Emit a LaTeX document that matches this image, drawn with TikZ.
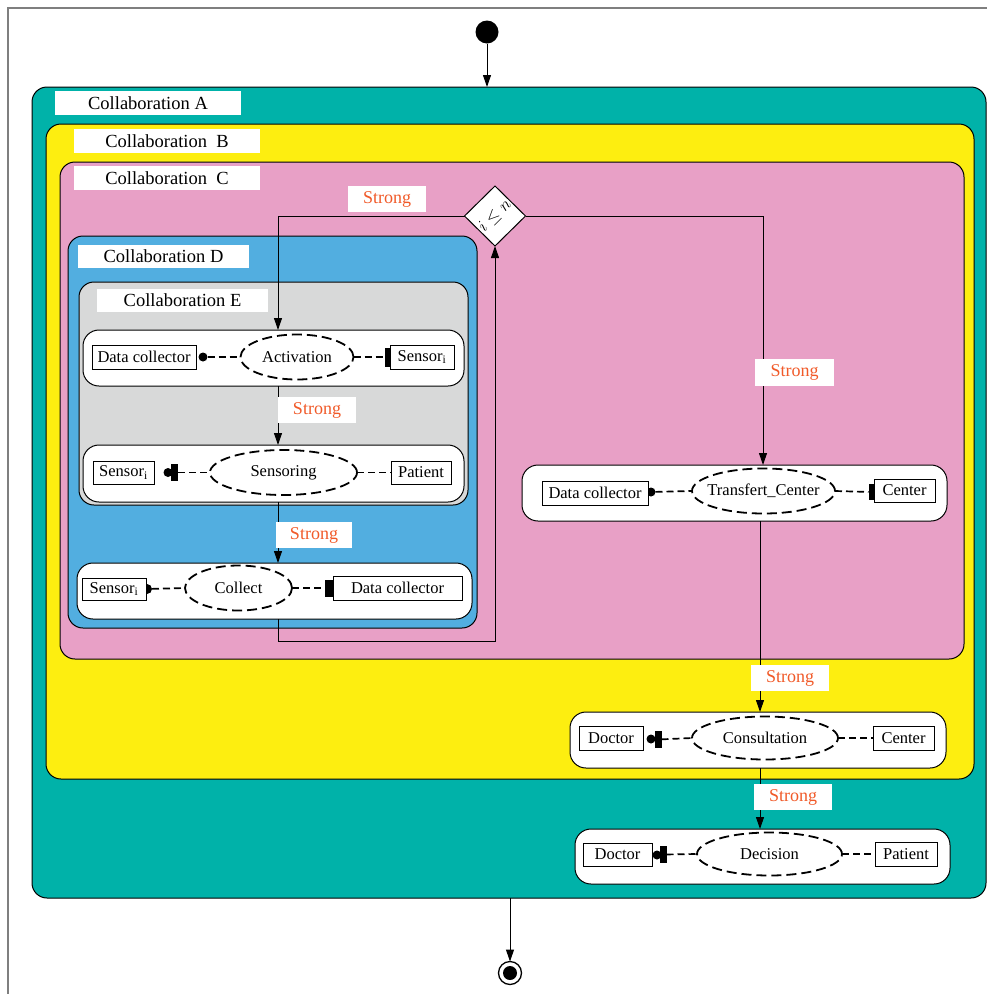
\documentclass[tikz,border=0pt]{standalone}
\usepackage{fontspec}
\setmainfont{Liberation Serif}
\usetikzlibrary{shapes.geometric,arrows.meta}

\definecolor{collabA}{HTML}{00B2A9}
\definecolor{collabB}{HTML}{FDEE10}
\definecolor{collabC}{HTML}{E8A0C6}
\definecolor{collabD}{HTML}{52AEE0}
\definecolor{collabE}{HTML}{D8D9D9}
\definecolor{strongred}{HTML}{F15A29}
\definecolor{framegray}{HTML}{7F7F7F}

% node spanning the box (x1,y1)-(x2,y2): style, name, x1, y1, x2, y2, text
\newcommand\spanbox[7]{%
  \node[#1,minimum width={(#5)-(#3)},minimum height={(#6)-(#4)}]
    (#2) at ({((#3)+(#5))/2},{((#4)+(#6))/2}) {#7};}

\tikzset{
  region/.style={draw=black,line width=1pt,rounded corners=15pt,inner sep=0pt,outer sep=0pt},
  tag/.style={fill=white,inner sep=0pt,outer sep=0pt,font=\fontsize{18.5}{20}\selectfont},
  row/.style={draw=black,fill=white,line width=1pt,rounded corners=16pt,inner sep=0pt,outer sep=0pt},
  actor/.style={draw=black,fill=white,line width=0.9pt,inner sep=0pt,outer sep=0pt,font=\fontsize{16.5}{18}\selectfont},
  usecase/.style={ellipse,draw=black,fill=white,line width=1.8pt,dash pattern=on 10pt off 5pt,inner sep=0pt,outer sep=0pt},
  uctext/.style={font=\fontsize{16.5}{18}\selectfont},
  strongtag/.style={fill=white,inner sep=0pt,outer sep=0pt,text=strongred,font=\fontsize{18}{20}\selectfont},
  ball/.style={circle,fill=black,inner sep=0pt,outer sep=0pt,minimum size=9pt},
  socket/.style={rectangle,fill=black,inner sep=0pt,outer sep=0pt,minimum width=7pt,minimum height=17pt},
  wire/.style={line width=1.7pt,dash pattern=on 7pt off 4pt},
  flow/.style={line width=1pt,-{Triangle[length=12pt,width=8pt]}},
}

\begin{document}
\begin{tikzpicture}[x=1pt,y=-1pt]
\useasboundingbox (0,0) rectangle (987,994);

% outer frame
\draw[framegray,line width=1.5pt] (8,994) -- (8,8) -- (987,8);

% nested collaboration regions
\spanbox{region,fill=collabA}{regA}{32}{87}{986}{898}{}
\spanbox{tag}{tagA}{55}{91}{241}{115}{Collaboration A}
\spanbox{region,fill=collabB}{regB}{46}{124}{974}{779}{}
\spanbox{tag}{tagB}{74}{129}{260}{153}{Collaboration\ \ B}
\spanbox{region,fill=collabC}{regC}{60}{162}{964}{659}{}
\spanbox{tag}{tagC}{74}{166}{260}{190}{Collaboration\ \ C}
\spanbox{region,fill=collabD}{regD}{68}{236}{477}{628}{}
\spanbox{tag}{tagD}{78}{245}{249}{268}{Collaboration D}
\spanbox{region,fill=collabE}{regE}{79}{282}{468}{505}{}
\spanbox{tag}{tagE}{97}{289}{268}{312}{Collaboration E}

% Activation
\spanbox{row}{rowAct}{83}{330}{464}{386}{}
\node[ball] (actB) at (203,357) {};
\spanbox{actor}{actDC}{92}{345}{196}{369}{Data collector}
\node[usecase,minimum width=113pt,minimum height=45pt,label={[uctext]center:Activation}] (act) at (297,357) {};
\node[socket,minimum height=19pt] (actS) at (388,357) {};
\spanbox{actor}{actSen}{390}{345}{454}{369}{Sensor\textsubscript{i}}
\draw[wire] (actB) -- (act.west);
\draw[wire] (act.east) -- (actS);

% Sensoring
\spanbox{row}{rowSen}{83}{445}{464}{502}{}
\spanbox{actor}{senSen}{93}{461}{154}{484}{Sensor\textsubscript{i}}
\node[ball] (senB) at (168,472.5) {};
\node[socket] (senS) at (174.5,472.5) {};
\node[usecase,minimum width=147pt,minimum height=45pt,label={[uctext]center:Sensoring}] (sen) at (283.5,472.5) {};
\spanbox{actor}{senPat}{391}{461}{451}{484}{Patient}
\draw[wire] (senS) -- (sen.west);
\draw[wire] (sen.east) -- (senPat.west);

% Collect
\spanbox{row}{rowCol}{77}{563}{472}{619}{}
\node[ball,minimum size=10pt] (colB) at (147,589) {};
\spanbox{actor}{colSen}{82}{578}{146}{600}{Sensor\textsubscript{i}}
\node[usecase,minimum width=107pt,minimum height=45pt,label={[uctext]center:Collect}] (col) at (238.5,588) {};
\node[socket,minimum width=8pt] (colS) at (329,588) {};
\spanbox{actor}{colDC}{333}{576}{462}{600}{Data collector}
\draw[wire] (colB) -- (col.west);
\draw[wire] (col.east) -- (colS);

% Transfert_Center
\spanbox{row}{rowTc}{522}{465}{947}{521}{}
\node[ball] (tcB) at (651,492) {};
\spanbox{actor}{tcDC}{542}{481}{648}{505}{Data collector}
\node[usecase,minimum width=143pt,minimum height=45pt,label={[uctext]center:Transfert\_Center}] (tc) at (763.5,491) {};
\node[socket,minimum height=16pt] (tcS) at (872,492) {};
\spanbox{actor}{tcCen}{874}{479}{935}{502}{Center}
\draw[wire] (tcB) -- (tc.west);
\draw[wire] (tc.east) -- (tcS);

% Consultation
\spanbox{row}{rowCon}{570}{712}{946}{768}{}
\spanbox{actor}{conDoc}{579}{726}{643}{750}{Doctor}
\node[ball] (conB) at (651,739) {};
\node[socket] (conS) at (658,739.5) {};
\node[usecase,minimum width=146pt,minimum height=43pt,label={[uctext]center:Consultation}] (con) at (765,738) {};
\spanbox{actor}{conCen}{873}{726}{934}{750}{Center}
\draw[wire] (conS) -- (con.west);
\draw[wire] (con.east) -- (conCen.west);

% Decision
\spanbox{row}{rowDec}{575}{829}{950}{884}{}
\spanbox{actor}{decDoc}{583}{843}{652}{866}{Doctor}
\node[ball] (decB) at (657,855) {};
\node[socket] (decS) at (663,854.5) {};
\node[usecase,minimum width=145pt,minimum height=43pt,label={[uctext]center:Decision}] (decn) at (769.5,854) {};
\spanbox{actor}{decPat}{875}{842}{937}{866}{Patient}
\draw[wire] (decS) -- (decn.west);
\draw[wire] (decn.east) -- (decPat.west);

% loop guard
\node[diamond,draw=black,fill=white,line width=1pt,inner sep=0pt,outer sep=0pt,
      minimum width=61pt,minimum height=60pt] (guard) at (495,216) {};
\node[inner sep=0pt,font=\fontsize{17}{18}\selectfont] (guardT) at (guard.center) {\rotatebox{45}{$i\leq n$}};

% start and end
\node[circle,fill=black,minimum size=23pt,inner sep=0pt,outer sep=0pt] (init) at (487,32) {};
\node[circle,draw=black,line width=1.3pt,fill=white,minimum size=23pt,inner sep=0pt,outer sep=0pt] (final) at (510,973) {};
\node[circle,fill=black,minimum size=14pt,inner sep=0pt] (finalDot) at (final.center) {};

% control-flow columns
\coordinate (colL) at (278,0);
\coordinate (colR) at (763,0);
\coordinate (colM) at (760,0);
\coordinate (colF) at (510,0);
\coordinate (loopY) at (0,641);

\draw[flow] (init) -- (init |- regA.north);
\draw[flow] (guard.west) -| (colL |- rowAct.north);
\draw[flow] (colL |- rowAct.south) -- (colL |- rowSen.north);
\draw[flow] (colL |- rowSen.south) -- (colL |- rowCol.north);
\draw[flow] (colL |- rowCol.south) |- (guard |- loopY) -- (guard.south);
\draw[flow] (guard.east) -| (colR |- rowTc.north);
\draw[flow] (colM |- rowTc.south) -- (colM |- rowCon.north);
\draw[flow] (colM |- rowCon.south) -- (colM |- rowDec.north);
\draw[flow] (colF |- regA.south) -- (final);

% flow labels
\spanbox{strongtag}{st1}{348}{186}{426}{212}{Strong}
\spanbox{strongtag}{st2}{278}{397}{356}{423}{Strong}
\spanbox{strongtag}{st3}{276}{522}{352}{548}{Strong}
\spanbox{strongtag}{st4}{755}{359}{834}{386}{Strong}
\spanbox{strongtag}{st5}{751}{665}{829}{691}{Strong}
\spanbox{strongtag}{st6}{754}{784}{832}{810}{Strong}
\end{tikzpicture}
\end{document}
